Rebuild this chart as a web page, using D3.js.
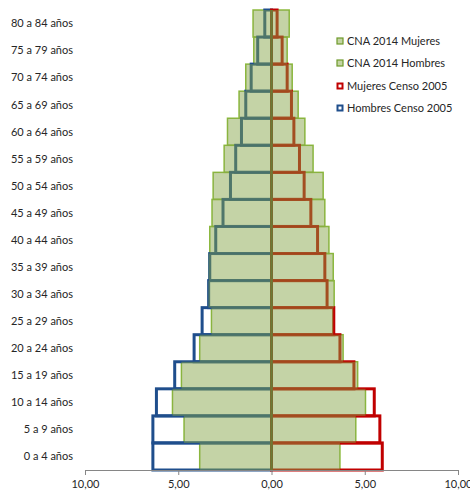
<!DOCTYPE html>
<html>
<head>
<meta charset="utf-8">
<script src="https://cdn.jsdelivr.net/npm/d3@7"></script>
<style>
  html, body { margin: 0; padding: 0; background: #fff; }
  svg { display: block; font-family: Lato, "Open Sans", sans-serif; }
</style>
</head>
<body>
<svg id="chart" width="470" height="493"></svg>
<script>
// Age groups (bottom to top)
const categories = ["0 a 4 años","5 a 9 años","10 a 14 años","15 a 19 años","20 a 24 años",
  "25 a 29 años","30 a 34 años","35 a 39 años","40 a 44 años","45 a 49 años","50 a 54 años",
  "55 a 59 años","60 a 64 años","65 a 69 años","70 a 74 años","75 a 79 años","80 a 84 años"];

const cnaMujeres   = [3.67,4.52,5.04,4.62,3.84,3.31,3.36,3.31,3.08,2.86,2.77,2.23,1.79,1.43,1.11,0.84,0.95];
const cnaHombres   = [3.85,4.69,5.31,4.83,3.85,3.22,3.38,3.35,3.31,3.19,3.13,2.54,2.36,1.74,1.38,0.95,0.99];
const censoMujeres = [5.94,5.81,5.51,4.42,3.67,3.34,2.98,2.86,2.47,2.11,1.75,1.50,1.20,1.07,0.84,0.57,0.30];
const censoHombres = [6.36,6.36,6.17,5.19,4.15,3.72,3.37,3.31,2.99,2.60,2.20,1.92,1.61,1.38,1.09,0.74,0.36];

const xTicks = [-10,-5,0,5,10];
const legendLabels = ["CNA 2014 Mujeres","CNA 2014 Hombres","Mujeres Censo 2005","Hombres Censo 2005"];

const svg = d3.select("#chart");
const x = d3.scaleLinear().domain([-10,10]).range([85,458]);
const y = d3.scaleBand().domain(categories.slice().reverse()).range([10,470]).padding(0);

const rows = categories.map((c,i)=>({c, cm:cnaMujeres[i], ch:cnaHombres[i], sm:censoMujeres[i], sh:censoHombres[i]}));

// green borders (under outlines)
const gBorder = svg.append("g");
gBorder.selectAll("rect.h").data(rows).join("rect")
  .attr("x", d=>x(-d.ch)).attr("y", d=>y(d.c))
  .attr("width", d=>x(0)-x(-d.ch)).attr("height", y.bandwidth())
  .attr("fill","none").attr("stroke","#8dbb3e").attr("stroke-width",1.5);
gBorder.selectAll("rect.m").data(rows).join("rect")
  .attr("x", x(0)).attr("y", d=>y(d.c))
  .attr("width", d=>x(d.cm)-x(0)).attr("height", y.bandwidth())
  .attr("fill","none").attr("stroke","#8dbb3e").attr("stroke-width",1.5);

// Censo 2005 outlines
const outl = svg.append("g");
outl.selectAll("rect.h").data(rows).join("rect")
  .attr("x", d=>x(-d.sh)).attr("y", d=>y(d.c))
  .attr("width", d=>x(0)-x(-d.sh)).attr("height", y.bandwidth())
  .attr("fill","none").attr("stroke","#1f4e8c").attr("stroke-width",3);
outl.selectAll("rect.m").data(rows).join("rect")
  .attr("x", x(0)).attr("y", d=>y(d.c))
  .attr("width", d=>x(d.sm)-x(0)).attr("height", y.bandwidth())
  .attr("fill","none").attr("stroke","#c00000").attr("stroke-width",3);

// CNA 2014 fills (semi-transparent, over outlines)
const fillC = "rgba(132,163,68,0.48)";
const gFill = svg.append("g");
gFill.selectAll("rect.h").data(rows).join("rect")
  .attr("x", d=>x(-d.ch)).attr("y", d=>y(d.c))
  .attr("width", d=>x(0)-x(-d.ch)).attr("height", y.bandwidth())
  .attr("fill", fillC);
gFill.selectAll("rect.m").data(rows).join("rect")
  .attr("x", x(0)).attr("y", d=>y(d.c))
  .attr("width", d=>x(d.cm)-x(0)).attr("height", y.bandwidth())
  .attr("fill", fillC);

// center line
svg.append("line").attr("x1",x(0)).attr("x2",x(0)).attr("y1",10).attr("y2",470)
  .attr("stroke","#6c7a36").attr("stroke-width",2.5);

// x axis
const xAxis = d3.axisBottom(x).tickValues(xTicks).tickSize(5)
  .tickFormat(v => d3.format(".2f")(Math.abs(v)).replace(".", ","));
const ax = svg.append("g").attr("transform","translate(0,470)").call(xAxis);
ax.select(".domain").attr("stroke","#868686").attr("stroke-width",1);
ax.selectAll(".tick line").attr("stroke","#868686");
ax.selectAll(".tick text").attr("fill","#262626").attr("font-size",11).attr("font-family","Lato, sans-serif").attr("dy","0.9em");

// y labels
svg.append("g").selectAll("text").data(categories).join("text")
  .attr("x",73).attr("y", d=>y(d)+y.bandwidth()/2).attr("dy","0.35em")
  .attr("text-anchor","end").attr("font-size",11).attr("fill","#262626").text(d=>d);

// legend
const lg = svg.append("g");
const legendY = [41,63,86,108];
legendLabels.forEach((t,i)=>{
  const g = lg.append("g").attr("transform",`translate(337,${legendY[i]})`);
  if (i<2) {
    g.append("rect").attr("x",0).attr("y",-3).attr("width",6).attr("height",6)
      .attr("fill","#c4d4a4").attr("stroke","#6e9a2a").attr("stroke-width",1.2);
  } else {
    g.append("rect").attr("x",0.5).attr("y",-2.5).attr("width",5).attr("height",5)
      .attr("fill","#fff").attr("stroke", i===2 ? "#c00000" : "#1f4e8c").attr("stroke-width",2);
  }
  g.append("text").attr("x",10).attr("y",0).attr("dy","0.35em").attr("font-size",11)
    .attr("fill","#262626").text(t);
});
</script>
</body>
</html>
